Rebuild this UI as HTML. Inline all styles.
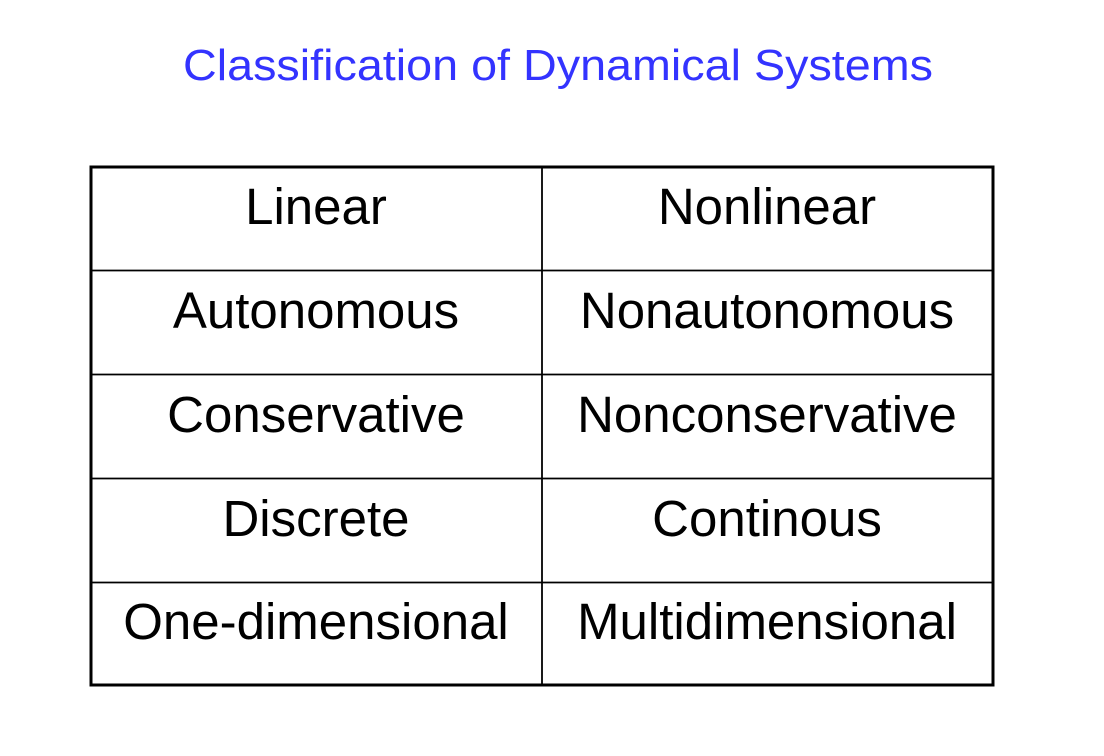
<!DOCTYPE html>
<html><head><style>html,body{margin:0;padding:0;background:#fff;}svg{display:block}</style></head>
<body>
<svg width="1104" height="756" xmlns="http://www.w3.org/2000/svg">
<rect width="1104" height="756" fill="#fff"/>
<text x="558" y="80" text-anchor="middle" font-family="Liberation Sans, sans-serif" font-size="44" fill="#3333ff" textLength="750" lengthAdjust="spacingAndGlyphs">Classification of Dynamical Systems</text>
<g stroke="#000" fill="none">
<rect x="91" y="167" width="902" height="518" stroke-width="3"/>
<line x1="542" y1="167" x2="542" y2="685" stroke-width="1.8"/>
<line x1="91" y1="270.5" x2="993" y2="270.5" stroke-width="1.8"/>
<line x1="91" y1="374.5" x2="993" y2="374.5" stroke-width="1.8"/>
<line x1="91" y1="478.5" x2="993" y2="478.5" stroke-width="1.8"/>
<line x1="91" y1="582.5" x2="993" y2="582.5" stroke-width="1.8"/>
</g>
<g font-family="Liberation Sans, Arial, sans-serif" font-size="51" fill="#000" text-anchor="middle">
<text x="316" y="224">Linear</text><text x="767" y="224">Nonlinear</text>
<text x="316" y="328">Autonomous</text><text x="767" y="328">Nonautonomous</text>
<text x="316" y="432">Conservative</text><text x="767" y="432">Nonconservative</text>
<text x="316" y="536">Discrete</text><text x="767" y="536">Continous</text>
<text x="316" y="639">One-dimensional</text><text x="767" y="639">Multidimensional</text>
</g>
</svg>
</body></html>
